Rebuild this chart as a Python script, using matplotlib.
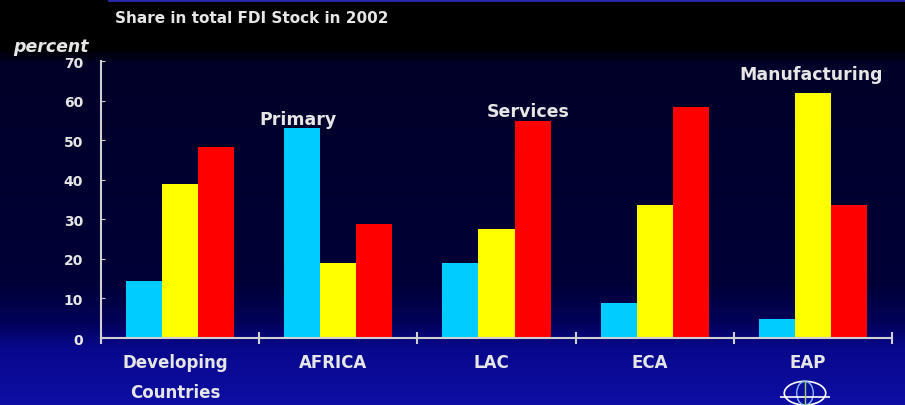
import numpy as np
import matplotlib
matplotlib.use("Agg")
import matplotlib.pyplot as plt
from matplotlib.patches import Ellipse

# share in total FDI stock in 2002, percent
regions = ["Developing\nCountries", "AFRICA", "LAC", "ECA", "EAP"]
primary = [14.4, 53.0, 19.0, 8.8, 4.8]
manufacturing = [39.0, 19.0, 27.6, 33.6, 61.9]
services = [48.3, 28.9, 54.9, 58.5, 33.6]
yticks = [0, 10, 20, 30, 40, 50, 60, 70]

txt = "#e6e6e6"
fig = plt.figure(figsize=(9.05, 4.06), dpi=100)
fig.patch.set_facecolor("black")

# slide background: black band on top, navy body, brighter blue at the bottom
bg = fig.add_axes([0, 0, 1, 1], zorder=0)
bg.set_axis_off()
rows = np.linspace(0, 1, 406)
stops = [0.0, 0.12, 0.16, 0.70, 0.80, 0.86, 1.0]
r = np.interp(rows, stops, [0, 0, 0, 0, 2, 8, 14])
g = np.interp(rows, stops, [0, 0, 0, 0, 2, 8, 14])
b = np.interp(rows, stops, [0, 0, 40, 55, 90, 140, 165])
grad = np.dstack([r, g, b]) / 255.0
grad = np.repeat(grad.reshape(406, 1, 3), 4, axis=1)
bg.imshow(grad, aspect="auto", extent=[0, 1, 1, 0])
bg.set_xlim(0, 1)
bg.set_ylim(1, 0)
bg.plot([0.12, 1.0], [0.002, 0.002], color="#2a2ab0", lw=2)

ax = fig.add_axes([0.1116, 0.165, 0.874, 0.682], zorder=1)
ax.patch.set_alpha(0)

x = np.arange(len(regions))
w = 0.228
ax.bar(x - w, primary, w, color="#00ccff", align="center")
ax.bar(x, manufacturing, w, color="#ffff00", align="center")
ax.bar(x + w, services, w, color="#ff0000", align="center")

ax.set_xlim(-0.5, len(regions) - 0.5)
ax.set_ylim(0, 70)
for s in ["top", "right"]:
    ax.spines[s].set_visible(False)
for s in ["left", "bottom"]:
    ax.spines[s].set_color("#d0d0d0")
    ax.spines[s].set_linewidth(1.5)

ax.set_yticks(yticks)
ax.set_yticklabels([str(v) for v in yticks], color=txt, fontsize=10,
                   fontweight="bold")
ax.tick_params(axis="y", direction="in", length=3, color="#d0d0d0", pad=13)

# boundaries between regions carry the x ticks
ax.set_xticks(np.arange(len(regions) + 1) - 0.5)
ax.set_xticklabels([])
ax.tick_params(axis="x", direction="inout", length=8, width=1.5,
               color="#d0d0d0")
for i, name in enumerate(regions):
    ax.text(i - 0.03, -3.9, name, ha="center", va="top", color=txt,
            fontsize=12, fontweight="bold", linespacing=1.85)

fig.text(0.127, 0.955, "Share in total FDI Stock in 2002", color=txt,
         fontsize=11, fontweight="bold", ha="left", va="center")
fig.text(0.015, 0.885, "percent", color=txt, fontsize=12.5, style="italic",
         fontweight="bold", ha="left", va="center")

# sector labels above their tallest bars
ax.text(0.747, 55.3, "Primary", color=txt, fontsize=12.5,
        fontweight="bold", ha="center", va="center")
ax.text(2.20, 57.3, "Services", color=txt, fontsize=12.5,
        fontweight="bold", ha="center", va="center")
ax.text(3.99, 66.7, "Manufacturing", color=txt, fontsize=12.5,
        fontweight="bold", ha="center", va="center")

# small globe emblem in the corner
logo = fig.add_axes([0.862, 0.0, 0.055, 0.07], zorder=2)
logo.set_axis_off()
logo.set_xlim(-1.2, 1.2)
logo.set_ylim(-1.4, 1.0)
logo.add_patch(Ellipse((0, -0.4), 2.0, 2.0, fill=False, ec="white", lw=1.2))
logo.add_patch(Ellipse((0, -0.4), 0.8, 2.0, fill=False, ec="#8ac0ff", lw=1))
logo.plot([-1.2, 1.2], [-0.7, -0.7], color="white", lw=1.2)
logo.plot([0, 0], [-1.4, 0.6], color="#9ad36a", lw=1)

fig.savefig("out.png", dpi=100, facecolor=fig.get_facecolor())
